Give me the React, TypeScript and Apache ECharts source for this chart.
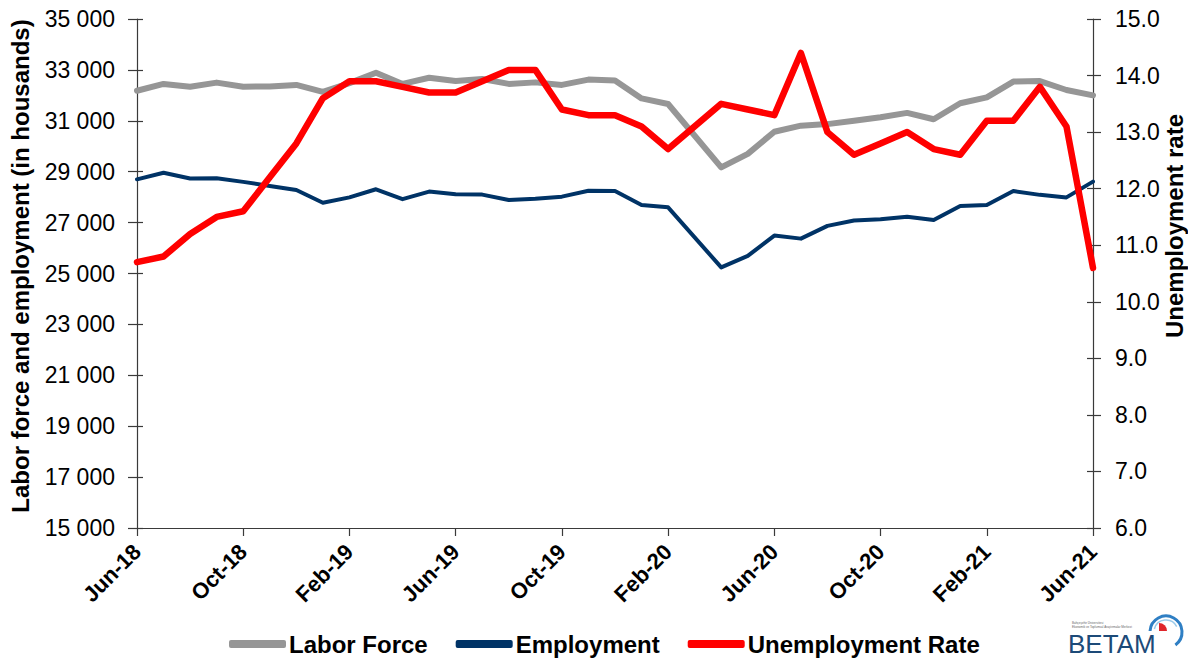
import React, { useEffect, useRef } from "react";
import * as echarts from "echarts";

const months = [
  "Jun-18", "Jul-18", "Aug-18", "Sep-18", "Oct-18", "Nov-18", "Dec-18",
  "Jan-19", "Feb-19", "Mar-19", "Apr-19", "May-19", "Jun-19", "Jul-19",
  "Aug-19", "Sep-19", "Oct-19", "Nov-19", "Dec-19", "Jan-20", "Feb-20",
  "Mar-20", "Apr-20", "May-20", "Jun-20", "Jul-20", "Aug-20", "Sep-20",
  "Oct-20", "Nov-20", "Dec-20", "Jan-21", "Feb-21", "Mar-21", "Apr-21",
  "May-21", "Jun-21",
];

const laborForce = [
  32180, 32450, 32340, 32500, 32340, 32350, 32410, 32140, 32480, 32890,
  32450, 32690, 32560, 32640, 32450, 32510, 32410, 32620, 32580, 31880,
  31660, null, 29170, 29700, 30570, 30810, 30870, 31000, 31140, 31310,
  31060, 31690, 31920, 32540, 32560, 32210, 32000,
];

const employment = [
  28700, 28960, 28730, 28740, 28600, 28440, 28280, 27780, 27990, 28310,
  27920, 28220, 28110, 28100, 27890, 27940, 28020, 28250, 28240, 27690,
  27600, null, 25240, 25690, 26490, 26370, 26870, 27080, 27130, 27230,
  27100, 27650, 27690, 28240, 28090, 27990, 28610,
];

const unemploymentRate = [
  10.7, 10.8, 11.2, 11.5, 11.6, 12.2, 12.8, 13.6, 13.9, 13.9,
  13.8, 13.7, 13.7, 13.9, 14.1, 14.1, 13.4, 13.3, 13.3, 13.1,
  12.7, null, 13.5, 13.4, 13.3, 14.4, 13.0, 12.6, 12.8, 13.0,
  12.7, 12.6, 13.2, 13.2, 13.8, 13.1, 10.6,
];

const seriesNames = ["Labor Force", "Employment", "Unemployment Rate"];
const leftTitle = "Labor force and employment (in housands)";
const rightTitle = "Unemployment rate";

const FONT = "'Liberation Sans', Arial, Helvetica, sans-serif";
const AXIS_COLOR = "#3a3a3a";

function fmtThousands(v: number) {
  return String(v).replace(/\B(?=(\d{3})+(?!\d))/g, " ");
}

export default function App() {
  const ref = useRef<HTMLDivElement>(null);

  useEffect(() => {
    document.body.style.margin = "0";
    if (!ref.current) return;
    const chart = echarts.init(ref.current, null, { renderer: "svg" });

    const leftBase = {
      type: "value" as const,
      min: 15000,
      max: 35000,
      interval: 2000,
      splitLine: { show: false },
    };
    const rightBase = {
      type: "value" as const,
      min: 6,
      max: 15,
      interval: 1,
      splitLine: { show: false },
    };

    chart.setOption({
      animation: false,
      backgroundColor: "#ffffff",
      textStyle: { fontFamily: FONT },
      grid: { left: 137, right: 95, top: 19, bottom: 133, containLabel: false },
      legend: {
        data: seriesNames.map((n) => ({ name: n, icon: "roundRect" })),
        left: 224,
        top: 627,
        itemWidth: 57,
        itemHeight: 8,
        itemGap: 28,
        textStyle: {
          fontFamily: FONT,
          fontSize: 24,
          fontWeight: "bold",
          color: "#000",
          padding: [0, 0, 0, -2],
        },
      },
      xAxis: {
        type: "category",
        data: months,
        boundaryGap: false,
        axisLine: { show: true, lineStyle: { color: AXIS_COLOR, width: 1.2 } },
        axisTick: {
          show: true,
          interval: 3,
          length: 8,
          lineStyle: { color: AXIS_COLOR, width: 1.2 },
        },
        axisLabel: {
          interval: 3,
          rotate: 45,
          margin: 20,
          fontFamily: FONT,
          fontSize: 22,
          fontWeight: "bold",
          color: "#000",
        },
        splitLine: { show: false },
      },
      yAxis: [
        {
          ...leftBase,
          position: "left",
          axisLine: { show: true, lineStyle: { color: AXIS_COLOR, width: 1.2 } },
          axisTick: { show: true, length: 9, lineStyle: { color: AXIS_COLOR, width: 1.2 } },
          axisLabel: {
            margin: 22,
            fontFamily: FONT,
            fontSize: 23,
            color: "#000",
            formatter: (v: number) => fmtThousands(v),
          },
        },
        {
          ...rightBase,
          position: "right",
          axisLine: { show: true, lineStyle: { color: AXIS_COLOR, width: 1.2 } },
          axisTick: { show: true, length: 8, lineStyle: { color: AXIS_COLOR, width: 1.2 } },
          axisLabel: {
            margin: 22,
            fontFamily: FONT,
            fontSize: 23,
            color: "#000",
            formatter: (v: number) => v.toFixed(1),
          },
        },
        {
          ...leftBase,
          position: "left",
          axisLine: { show: false },
          axisTick: { show: true, inside: true, length: 6, lineStyle: { color: AXIS_COLOR, width: 1.2 } },
          axisLabel: { show: false },
        },
        {
          ...rightBase,
          position: "right",
          axisLine: { show: false },
          axisTick: { show: true, inside: true, length: 6, lineStyle: { color: AXIS_COLOR, width: 1.2 } },
          axisLabel: { show: false },
        },
      ],
      series: [
        {
          name: seriesNames[0],
          type: "line",
          yAxisIndex: 0,
          data: laborForce,
          connectNulls: true,
          symbol: "none",
          color: "#969696",
          lineStyle: { color: "#969696", width: 6, cap: "round", join: "round" },
          z: 2,
        },
        {
          name: seriesNames[1],
          type: "line",
          yAxisIndex: 0,
          data: employment,
          connectNulls: true,
          symbol: "none",
          color: "#003366",
          lineStyle: { color: "#003366", width: 4, cap: "round", join: "round" },
          z: 3,
        },
        {
          name: seriesNames[2],
          type: "line",
          yAxisIndex: 1,
          data: unemploymentRate,
          connectNulls: true,
          symbol: "none",
          color: "#ff0000",
          lineStyle: { color: "#ff0000", width: 6.5, cap: "round", join: "round" },
          z: 4,
        },
      ],
      graphic: [
        {
          type: "text",
          x: 20,
          y: 266,
          rotation: Math.PI / 2,
          style: {
            text: leftTitle,
            font: `bold 24px ${FONT}`,
            fill: "#000",
            align: "center",
            verticalAlign: "middle",
          },
        },
        {
          type: "text",
          x: 1174,
          y: 226,
          rotation: Math.PI / 2,
          style: {
            text: rightTitle,
            font: `bold 24px ${FONT}`,
            fill: "#000",
            align: "center",
            verticalAlign: "middle",
          },
        },
        {
          type: "group",
          children: [
            {
              type: "text",
              x: 1068,
              y: 644,
              style: {
                text: "BETAM",
                font: `26px ${FONT}`,
                fill: "#1c4a78",
                align: "left",
                verticalAlign: "middle",
              },
            },
            {
              type: "text",
              x: 1072,
              y: 621,
              style: {
                text: "Bahçeşehir Üniversitesi",
                font: `3px ${FONT}`,
                fill: "#666",
                verticalAlign: "top",
              },
            },
            {
              type: "text",
              x: 1072,
              y: 625,
              style: {
                text: "Ekonomik ve Toplumsal Araştırmalar Merkezi",
                font: `3px ${FONT}`,
                fill: "#666",
                verticalAlign: "top",
              },
            },
            {
              type: "arc",
              shape: { cx: 1166, cy: 632, r: 16, startAngle: Math.PI * 1.02, endAngle: Math.PI * 2.3, clockwise: true },
              style: { stroke: "#2f7fc4", lineWidth: 3, fill: "none" },
            },
            {
              type: "arc",
              shape: { cx: 1166, cy: 632, r: 12, startAngle: Math.PI * 1.08, endAngle: Math.PI * 1.85, clockwise: true },
              style: { stroke: "#9ccbea", lineWidth: 1.5, fill: "none" },
            },
            {
              type: "sector",
              shape: { cx: 1159, cy: 631, r0: 0, r: 8, startAngle: -Math.PI / 2, endAngle: 0, clockwise: true },
              style: { fill: "#e0262b" },
            },
          ],
        },
      ],
    });

    return () => {
      chart.dispose();
    };
  }, []);

  return <div ref={ref} style={{ width: 1188, height: 661 }} />;
}
